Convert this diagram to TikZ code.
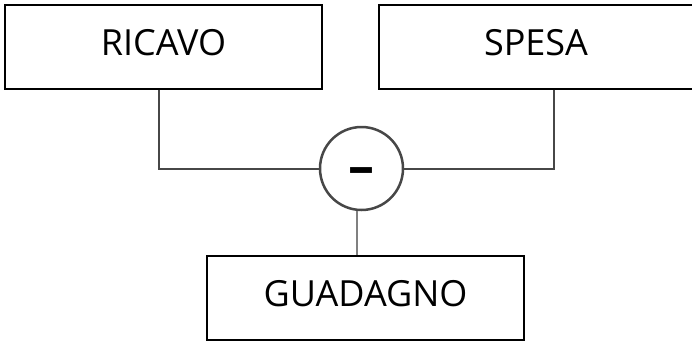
\documentclass[tikz,border=0pt]{standalone}
\usepackage{fontspec}
\setmainfont{Open Sans}
\usetikzlibrary{calc}
\begin{document}
\begin{tikzpicture}[x=1pt,y=-1pt]
				\tikzstyle{box} = [rectangle, draw=black, line width=1.2pt, text centered, inner sep=0pt, text depth=9pt, font=\fontsize{36}{40}\selectfont]
				\tikzstyle{wire} = [draw, line width=2pt, color=black!72]
				\tikzstyle{thinwire} = [draw, line width=1.2pt, color=black!50]
				\tikzstyle{op} = [circle, draw=black!72, line width=2.5pt, minimum size=83pt, inner sep=0pt, text height=0pt, text depth=0pt, font=\fontsize{52}{52}\selectfont\bfseries]
				\useasboundingbox (0,0) rectangle (692,343);

				\node [box, minimum width=317pt, minimum height=84pt] (ricavo) at (163.5,47) {RICAVO};
				\node [box, minimum width=314pt, minimum height=84pt] (spesa) at (536,47) {SPESA};
				\node [op] (minus) at (361.5,168.5) {\raisebox{-15.5pt}{–}};
				\node [box, minimum width=317pt, minimum height=84pt] (guadagno) at (365.5,298) {GUADAGNO};

				\path [wire] ([xshift=-4.5pt]ricavo.south) |- (minus.west);
				\path [wire] ([xshift=18pt]spesa.south) |- (minus.east);
				\path [thinwire] ([xshift=-4.5pt]minus.south) -- ([xshift=-4.5pt]minus.south |- guadagno.north);
			\end{tikzpicture}
\end{document}
